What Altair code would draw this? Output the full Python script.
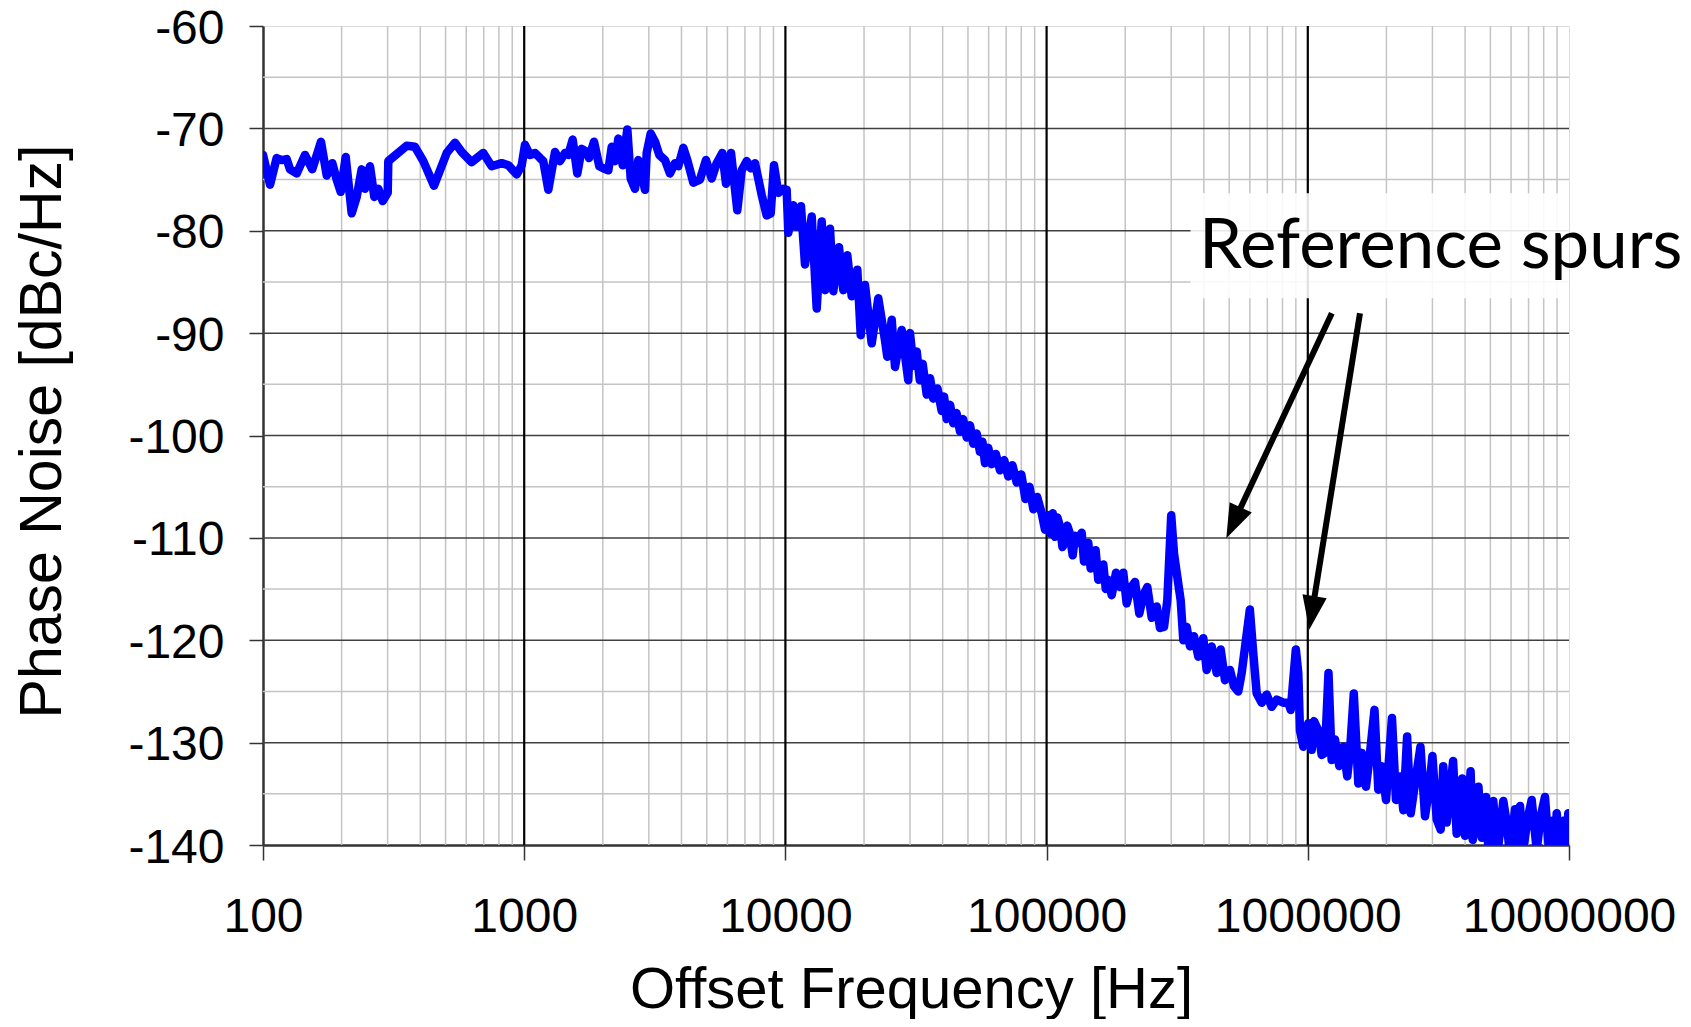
import math
import altair as alt
import pandas as pd

# ---------------- data ----------------
freq_hz = [
    100, 106.4, 112.8, 117.9, 123.2, 126.9, 134.6, 144.8, 154.4, 166.7,
    175.4, 184.2, 191.5, 198.4, 207.3, 218.6, 228.4, 238.7, 245.8, 256.8,
    266.8, 276.4, 287.3, 300.2, 301.8, 354.9, 381.9, 410.9, 451.6, 505.1,
    543.4, 576.4, 629.5, 697.2, 750.8, 820.3, 869.4, 936.1, 978.2,
    1007, 1052, 1100, 1150, 1183, 1237, 1312, 1371, 1433, 1475,
    1533, 1597, 1660, 1735, 1771, 1850, 1939, 2008, 2099, 2163,
    2227, 2293, 2384, 2482, 2557, 2656, 2734, 2901, 2944, 3050,
    3168, 3291, 3459, 3615, 3778, 3890, 4066, 4211, 4441, 4710,
    4966, 5222, 5457, 5733, 5924, 6191, 6544, 6803, 7110, 7365,
    7649, 8114, 8480, 8784, 9043, 9393, 9815, 10113,
    10259, 10722, 11047, 11472, 11885, 12611, 13180, 13772, 14178, 14819,
    15255, 16040, 16660, 17258, 17940, 18850, 19425, 20170, 21400, 22680,
    24060, 24550, 25530, 26280, 27870, 29540, 29990, 30900, 31820, 32700,
    33540, 34750, 35800, 36820, 38200, 39660, 40500, 41440, 42700, 43930,
    45200, 46610, 47900, 49440, 50900, 52410, 54000, 55590, 56800, 58100,
    59800, 61630, 63900, 66310, 68800, 71340, 74000, 76830, 80000, 83000,
    86000, 89000, 92000, 95790,
    98610, 101500, 103500, 105540, 107700, 110000, 112530, 115000, 117600, 120000,
    122150, 125870, 128500, 131080, 136270, 139060, 144410, 147500, 150920, 154000,
    157710, 161000, 164830, 168500, 172260, 177490, 184350, 190960,
    196580, 202560, 209820, 218000, 226440, 234550, 242960, 252590, 263960, 271740,
    281530, 289830, 300000, 307400, 314800, 326100, 333700, 343800, 354000, 366700,
    380900, 398000, 410100, 428600, 447900, 464000, 481900, 503600, 521700, 541800,
    558300, 600000, 618500, 637300, 666100, 695900, 727500, 760200, 805900, 842300,
    860300, 900000, 919500, 933400, 961000, 1004400, 1034900, 1056000, 1097000, 1130000,
    1163000, 1200000, 1234000, 1271000, 1320000, 1367000, 1416000, 1450000, 1500000, 1561000,
    1608000, 1670000, 1719000, 1800000, 1862000, 1918000, 1993000, 2100000, 2176000, 2254000,
    2321000, 2400000, 2477000, 2573000, 2700000, 2810000, 2919000, 3000000, 3116000, 3227000,
    3300000, 3402000, 3502000, 3600000, 3715000, 3802000, 3900000, 3999000, 4117000, 4200000,
    4280000, 4406000, 4500000, 4633000, 4812000, 4911000, 5132000, 5316000, 5603000, 5773000,
    5944000, 6213000, 6350000, 6493000, 6683000, 6923000, 7197000, 7522000, 7792000, 8092000,
    8404000, 8705000, 8840000, 8970000, 9295000, 9570000, 9750000, 9938000, 10000000,
]
pn_dbc = [
    -72.6, -75.5, -72.9, -73.1, -73.0, -74.0, -74.4, -72.6, -74.0, -71.3,
    -74.6, -73.4, -75.0, -76.2, -72.8, -78.3, -76.7, -74.0, -75.9, -73.7,
    -76.7, -75.9, -77.1, -76.3, -73.2, -71.7, -71.8, -73.2, -75.6, -72.4,
    -71.4, -72.3, -73.3, -72.4, -73.7, -73.4, -73.6, -74.5, -73.6,
    -71.6, -72.6, -72.4, -72.9, -73.2, -76.0, -72.3, -73.2, -72.4, -72.6,
    -71.1, -74.4, -72.0, -72.3, -72.9, -71.3, -73.7, -73.9, -74.1, -71.8,
    -73.2, -71.0, -73.6, -70.1, -74.9, -75.9, -73.1, -76.0, -72.4, -70.5,
    -71.3, -72.6, -73.1, -74.4, -73.4, -73.7, -71.9, -73.1, -75.3, -75.0,
    -73.1, -74.9, -73.4, -72.4, -75.4, -72.4, -78.0, -74.1, -73.2, -73.9,
    -73.4, -76.5, -78.5, -78.3, -73.6, -76.3, -75.9, -76.0,
    -80.2, -77.5, -79.6, -77.6, -83.3, -78.6, -87.6, -79.1, -85.8, -79.8,
    -85.9, -81.6, -85.8, -82.4, -86.4, -83.8, -90.2, -85.3, -91.0, -86.6,
    -90.7, -92.3, -88.7, -93.3, -89.7, -94.6, -90.0, -93.2, -91.8, -94.6,
    -93.0, -96.0, -94.4, -96.4, -95.4, -97.6, -96.2, -98.4, -97.0, -98.8,
    -97.8, -99.6, -98.4, -100.2, -99.0, -100.8, -99.8, -101.6, -100.6, -102.7,
    -101.2, -102.8, -101.8, -103.4, -102.4, -104.0, -102.9, -104.6, -103.8, -106.2,
    -105.0, -107.2, -106.0, -107.6,
    -109.2, -107.8, -109.6, -107.6, -109.9, -108.0, -108.9, -110.9, -110.4, -108.8,
    -109.4, -111.7, -109.8, -110.5, -109.5, -112.3, -110.5, -113.0, -112.3, -111.2,
    -114.1, -113.8, -112.6, -115.0, -114.1, -115.6, -113.4, -114.8,
    -113.4, -116.4, -114.9, -114.3, -117.4, -115.6, -114.8, -117.8, -116.7, -118.8,
    -118.7, -116.1, -107.8, -111.5, -113.4, -116.1, -120.0, -118.7, -120.6, -119.6,
    -121.6, -119.8, -122.9, -120.6, -123.2, -120.9, -123.9, -122.9, -124.5, -125.0,
    -123.2, -117.0, -121.3, -125.2, -126.1, -125.3, -126.5, -125.8, -126.1, -126.1,
    -126.8, -120.9, -123.2, -128.8, -130.4, -128.1, -130.7, -127.9, -128.8, -131.2,
    -131.0, -123.2, -131.7, -129.7, -132.3, -130.4, -133.3, -130.9, -125.2, -134.0,
    -131.0, -134.3, -131.7, -126.8, -134.6, -132.3, -135.6, -127.6, -135.6, -133.3,
    -136.6, -129.4, -136.9, -134.0, -130.4, -137.2, -134.3, -131.3, -137.5, -138.5,
    -132.3, -137.8, -134.9, -131.8, -138.9, -135.6, -133.5, -139.1, -136.5, -132.8,
    -139.5, -136.8, -134.3, -139.3, -135.3, -140.5, -135.7, -141.0, -135.7, -137.8,
    -141.0, -136.5, -140.8, -136.2, -140.5, -137.6, -135.6, -140.5, -137.2, -135.3,
    -141.0, -137.6, -141.0, -136.9, -141.0, -137.6, -141.0, -136.9, -137.5,
]

x_major = [100, 1000, 10000, 100000, 1000000, 10000000]
x_minor = [d * m for d in [100, 1000, 10000, 100000, 1000000] for m in range(2, 10)]
y_major = [-140, -130, -120, -110, -100, -90, -80, -70, -60]
y_minor = [-135, -125, -115, -105, -95, -85, -75, -65]

annot_text = ["Reference spurs"]
annot_x = [383400]
annot_y = [-83.66]
box_x = [355700]
box_x2 = [10000000]
box_y = [-76.34]
box_y2 = [-86.6]

arrow_start_hz = [1236000, 1584000]
arrow_start_db = [-88.06, -88.06]
arrow_tip_hz = [487500, 1012500]
arrow_tip_db = [-110.03, -118.98]

# ---------------- layout ----------------
W, H = 1306, 819
XMIN, XMAX, YMIN, YMAX = 100, 1e7, -140, -60
FONT = "Liberation Sans"

def px(f, db):
    return ((math.log10(f) - math.log10(XMIN)) / (math.log10(XMAX) - math.log10(XMIN)) * W,
            (YMAX - db) / (YMAX - YMIN) * H)

head_len = 34.0
shaft_rows, head_rows = [], []
for fs, ds, ft, dt in zip(arrow_start_hz, arrow_start_db, arrow_tip_hz, arrow_tip_db):
    x0, y0 = px(fs, ds)
    x1, y1 = px(ft, dt)
    dx, dy = x1 - x0, y1 - y0
    L = math.hypot(dx, dy)
    t = (head_len - 4) / L
    lf = math.log10(ft) + t * (math.log10(fs) - math.log10(ft))
    ld = dt + t * (ds - dt)
    shaft_rows.append({"f": fs, "db": ds, "f2": 10 ** lf, "db2": ld})
    ang = math.degrees(math.atan2(dx, -dy)) % 360
    head_rows.append({"f": ft, "db": dt, "ang": ang})

df = pd.DataFrame({"f": freq_hz, "db": pn_dbc})

xs = alt.Scale(type="log", domain=[XMIN, XMAX], nice=False)
ys = alt.Scale(domain=[YMIN, YMAX], nice=False, zero=False)

x_axis = alt.Axis(
    values=x_major, labelExpr="'' + datum.value", title="Offset Frequency [Hz]",
    titleFont=FONT, titleFontSize=58, titleFontWeight="normal", titleColor="black",
    titleX=648, titleY=162, titleBaseline="alphabetic", titleAlign="center",
    labelFont=FONT, labelFontSize=48, labelColor="black", labelPadding=33, labelLimit=600,
    labelFlush=False, labelOverlap=False, tickSize=15, tickWidth=1.5, tickColor="#333333",
    domainColor="#333333", domainWidth=2.5, grid=False,
)
y_axis = alt.Axis(
    values=y_major, labelExpr="'' + datum.value", title="Phase Noise [dBc/Hz]",
    titleFont=FONT, titleFontSize=59, titleFontWeight="normal", titleColor="black",
    titleX=-203, titleY=405, titleAngle=270, titleBaseline="alphabetic", titleAlign="center",
    labelFont=FONT, labelFontSize=48, labelColor="black", labelPadding=25, labelLimit=600,
    labelOffset=3, labelBaseline="middle",
    labelFlush=False, labelOverlap=False, tickSize=14, tickWidth=1.5, tickColor="#333333",
    domainColor="#333333", domainWidth=2.5, grid=False,
)

base = alt.Chart(df)

minor_v = alt.Chart(pd.DataFrame({"f": x_minor})).mark_rule(color="#c4c4c4", strokeWidth=1.5).encode(
    x=alt.X("f:Q", scale=xs, axis=x_axis))
minor_h = alt.Chart(pd.DataFrame({"db": y_minor})).mark_rule(color="#c4c4c4", strokeWidth=1.5).encode(
    y=alt.Y("db:Q", scale=ys, axis=y_axis))
major_h = alt.Chart(pd.DataFrame({"db": y_major[1:-1]})).mark_rule(color="#404040", strokeWidth=1.5).encode(
    y=alt.Y("db:Q", scale=ys))
major_v = alt.Chart(pd.DataFrame({"f": x_major[1:-1]})).mark_rule(color="#000000", strokeWidth=2.2).encode(
    x=alt.X("f:Q", scale=xs))

line = base.mark_line(color="#0000ff", strokeWidth=8.5, strokeJoin="round", strokeCap="round", clip=True).encode(
    x=alt.X("f:Q", scale=xs), y=alt.Y("db:Q", scale=ys))

box = alt.Chart(pd.DataFrame({"x": box_x, "x2": box_x2, "y": box_y, "y2": box_y2})).mark_rect(
    color="white", opacity=0.88).encode(
    x=alt.X("x:Q", scale=xs), x2="x2:Q", y=alt.Y("y:Q", scale=ys), y2="y2:Q")

label = alt.Chart(pd.DataFrame({"t": annot_text, "f": annot_x, "db": annot_y})).mark_text(
    font="Lato", fontSize=69, align="left", baseline="alphabetic", color="black").encode(
    x=alt.X("f:Q", scale=xs), y=alt.Y("db:Q", scale=ys), text="t:N")

shafts = alt.Chart(pd.DataFrame(shaft_rows)).mark_rule(color="black", strokeWidth=6).encode(
    x=alt.X("f:Q", scale=xs), x2="f2:Q", y=alt.Y("db:Q", scale=ys), y2="db2:Q")

heads = alt.Chart(pd.DataFrame(head_rows)).mark_point(
    shape="M0,0L0.72,2L-0.72,2Z", filled=True, color="black", opacity=1, size=(head_len) ** 2,
    strokeWidth=0).encode(
    x=alt.X("f:Q", scale=xs), y=alt.Y("db:Q", scale=ys), angle=alt.Angle("ang:Q", scale=None))

chart = alt.layer(minor_v, minor_h, major_h, major_v, line, box, label, shafts, heads).properties(
    width=W, height=H,
    autosize=alt.AutoSizeParams(type="none"),
    padding={"left": 255, "top": 18, "right": 114, "bottom": 174},
).configure_view(stroke="#888888", strokeWidth=2.5).configure(background="white")

chart.save("out.html", embed_options={"renderer": "svg", "actions": False})
